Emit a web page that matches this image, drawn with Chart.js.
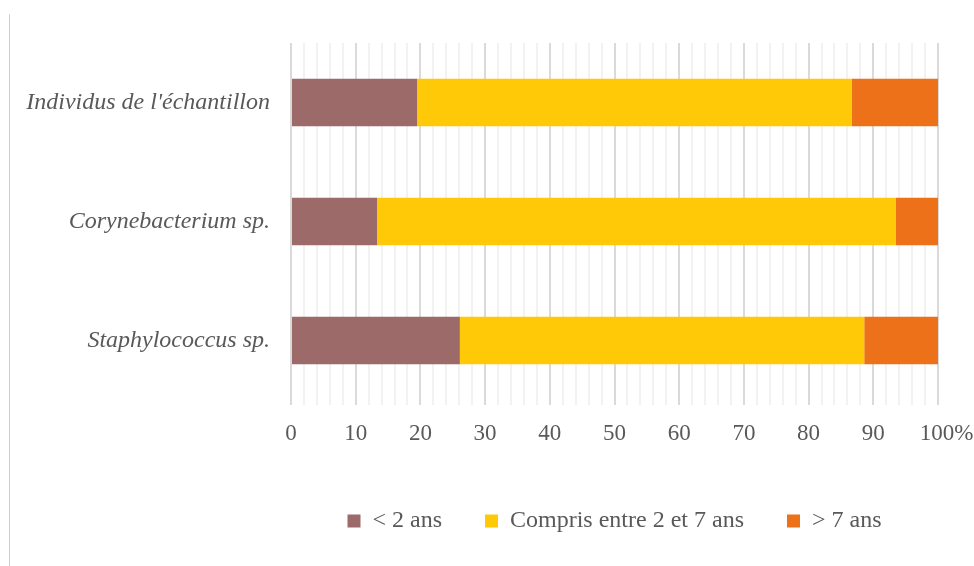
<!DOCTYPE html>
<html>
<head>
<meta charset="utf-8">
<script src="https://cdn.jsdelivr.net/npm/chart.js@4/dist/chart.umd.min.js"></script>
<style>
  html, body { margin: 0; padding: 0; background: #fff; overflow: hidden; }
  #wrap { position: relative; width: 974px; height: 566px; }
  #frame { position: absolute; left: 9px; top: 14px; width: 0; height: 552px; border-left: 1px solid #d0d0d0; }
  canvas { position: absolute; left: 0; top: 0; }
</style>
</head>
<body>
<div id="wrap">
  <div id="frame"></div>
  <canvas id="myChart" width="974" height="566"></canvas>
</div>
<script>
// données (% des individus)
const categories = ["Individus de l'échantillon", "Corynebacterium sp.", "Staphylococcus sp."];
const seriesNames = ["< 2 ans", "Compris entre 2 et 7 ans", "> 7 ans"];
const moinsDe2 = [19.5, 13.3, 26.1];
const entre2et7 = [67.2, 80.2, 62.5];
const plusDe7 = [13.3, 6.5, 11.4];
const xTickLabels = ["0", "10", "20", "30", "40", "50", "60", "70", "80", "90", "100%"];

const serif = "'Liberation Serif', 'Times New Roman', serif";
const textColor = "#595959";

const ctx = document.getElementById('myChart').getContext('2d');
new Chart(ctx, {
    type: 'bar',
    data: {
        labels: categories,
        datasets: [
            { label: seriesNames[0], data: moinsDe2, backgroundColor: '#9D6A6A' },
            { label: seriesNames[1], data: entre2et7, backgroundColor: '#FFC907' },
            { label: seriesNames[2], data: plusDe7, backgroundColor: '#EC7119' }
        ]
    },
    options: {
        indexAxis: 'y',
        responsive: false,
        animation: false,
        datasets: {
            bar: { categoryPercentage: 1, barPercentage: 0.4, borderWidth: 0 }
        },
        layout: { padding: { top: 43, right: 36, bottom: 23, left: 0 } },
        plugins: {
            tooltip: { enabled: false },
            legend: {
                position: 'bottom',
                fullSize: false,
                labels: {
                    font: { family: serif, size: 24 },
                    color: textColor,
                    boxWidth: 13,
                    boxHeight: 13,
                    padding: 43
                }
            }
        },
        scales: {
            x: {
                stacked: true,
                min: 0,
                max: 100,
                border: { display: false },
                grid: {
                    color: c => (c.tick && c.tick.value % 10 === 0) ? '#dadada' : '#f2f2f2',
                    lineWidth: 2,
                    tickLength: 5
                },
                ticks: {
                    stepSize: 2,
                    autoSkip: false,
                    maxRotation: 0,
                    padding: 15,
                    color: textColor,
                    font: { family: serif, size: 23 },
                    callback: v => v % 10 === 0 ? (v === 100 ? '   ' + xTickLabels[10] : xTickLabels[v / 10]) : ''
                },
                afterFit: s => { s.height = 66; s.paddingLeft = 0; s.paddingRight = 0; }
            },
            y: {
                stacked: true,
                border: { display: false },
                grid: { display: false, drawTicks: false },
                ticks: {
                    padding: 21,
                    color: textColor,
                    font: { family: serif, size: 24, style: 'italic' }
                },
                afterFit: s => { s.width = 291; }
            }
        }
    }
});
</script>
</body>
</html>
